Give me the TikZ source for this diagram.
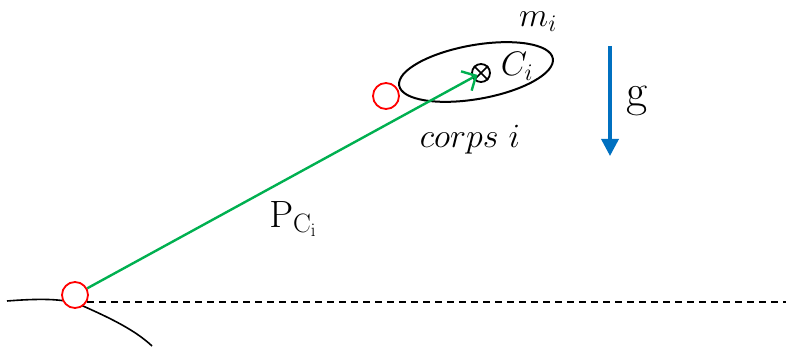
\documentclass[tikz,border=0pt]{standalone}
\usepackage{fix-cm}
\usetikzlibrary{arrows.meta,shapes.geometric,positioning,calc}
\definecolor{vecgreen}{RGB}{0,176,80}
\definecolor{gravblue}{RGB}{0,112,192}

\begin{document}
\begin{tikzpicture}[x=1pt,y=-1pt,
  joint/.style={draw=red,fill=white,circle,line width=1.8pt,minimum size=26pt,inner sep=0pt},
  body/.style={draw,ellipse,line width=2pt,minimum width=156pt,minimum height=54pt,inner sep=0pt},
  cross/.style={draw,circle,line width=1.8pt,minimum size=18pt,inner sep=0pt},
  lbl/.style={font=\fontsize{34}{40}\selectfont,inner sep=0pt},
  vec/.style={draw=vecgreen,line width=2.4pt,-{Straight Barb[length=11pt,width=22pt]}},
  gravity/.style={draw=gravblue,line width=3.5pt,-{Triangle[length=17pt,width=17pt]}},
  horizon/.style={line width=1.4pt,dash pattern=on 7pt off 5pt}]
  \useasboundingbox (0,0) rectangle (787,347);
  % ground profile, hidden under the base joint
  \draw[line width=1.6pt] (7,301) .. controls (45,298) and (68,299) .. (83,306)
    .. controls (110,318) and (135,330) .. (152,346);
  % joints (red circles)
  \node[joint] (base) at (75,295) {};
  \node[joint] (top)  at (386,96) {};
  % body i and its centre of mass
  \node[body, rotate=10] (corps) at (476,72) {};
  \node[cross] (cg) at (481,73) {};
  \draw[line width=1.6pt] (cg.45) -- (cg.225) (cg.135) -- (cg.-45);
  \node[lbl] (ci)   at (517,66)  {$C_i$};
  \node[lbl] (mi)   at (538,22)  {$m_i$};
  \node[lbl] (name) at (470,140) {$corps\ i$};
  % gravity
  \coordinate (gtop) at (610,46);
  \coordinate (gbot) at (610,156);
  \node[lbl, font=\fontsize{46}{50}\selectfont] (g) at (637,101) {g};
  \draw[gravity] (gtop) -- (gbot);
  % position vector and horizontal reference
  \coordinate (horizon end) at (786,0);
  \draw[vec, shorten >=4pt] (base) -- (cg.center);
  \node[lbl, font=\fontsize{38}{44}\selectfont] (pci) at ($(base)!0.5!(cg)+(15,35)$) {$\mathrm{P}_{\mathrm{C_i}}$};
  \draw[horizon] (base.-30) -- (base.-30 -| horizon end);
\end{tikzpicture}
\end{document}
